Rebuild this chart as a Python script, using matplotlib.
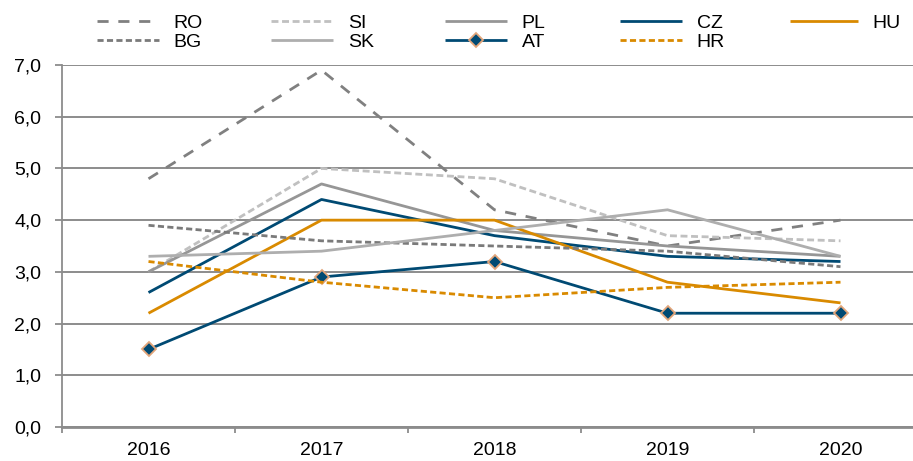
import matplotlib
matplotlib.use("Agg")
import matplotlib.pyplot as plt
from matplotlib.ticker import FuncFormatter, FixedLocator

plt.rcParams['font.family'] = ['Liberation Sans', 'DejaVu Sans']

years = ["2016", "2017", "2018", "2019", "2020"]
RO = [4.8, 6.9, 4.2, 3.5, 4.0]
SI = [3.0, 5.0, 4.8, 3.7, 3.6]
PL = [3.0, 4.7, 3.8, 3.5, 3.3]
CZ = [2.6, 4.4, 3.7, 3.3, 3.2]
HU = [2.2, 4.0, 4.0, 2.8, 2.4]
BG = [3.9, 3.6, 3.5, 3.4, 3.1]
SK = [3.3, 3.4, 3.8, 4.2, 3.3]
AT = [1.5, 2.9, 3.2, 2.2, 2.2]
HR = [3.2, 2.8, 2.5, 2.7, 2.8]

W, H = 913, 461
FS = 14
fig = plt.figure(figsize=(W/100, H/100), dpi=100)
left, right, top, bottom = 62, 927, 65, 427
ax = fig.add_axes([left/W, (H-bottom)/H, (right-left)/W, (bottom-top)/H])

x = list(range(len(years)))
lw = 2.0
blue = "#004A73"
orange = "#D98A00"
series = [
    ("RO", RO, dict(color="#808080", ls=(0, (4, 3.5)))),
    ("BG", BG, dict(color="#7A7A7A", ls=(0, (2.2, 1.2)))),
    ("SI", SI, dict(color="#C0C0C0", ls=(0, (2.5, 1.3)))),
    ("SK", SK, dict(color="#AEAEAE", ls="-")),
    ("PL", PL, dict(color="#969696", ls="-")),
    ("AT", AT, dict(color=blue, ls="-", marker="D", markersize=7,
                    markerfacecolor=blue, markeredgecolor="#E2A57A", markeredgewidth=1.3)),
    ("CZ", CZ, dict(color=blue, ls="-")),
    ("HR", HR, dict(color=orange, ls=(0, (2.2, 1.2)))),
    ("HU", HU, dict(color=orange, ls="-")),
]
draw_order = ["RO", "SI", "PL", "CZ", "HU", "BG", "SK", "AT", "HR"]
handles = {}
for name, vals, st in series:
    z = 3 + draw_order.index(name) * 0.1
    ln, = ax.plot(x, vals, lw=lw, label=name, zorder=z, solid_capstyle="butt", **st)
    handles[name] = ln

ax.set_xlim(-0.5, 4.5)
ax.set_ylim(0, 7)
ax.yaxis.set_major_locator(FixedLocator([0, 1, 2, 3, 4, 5, 6, 7]))
ax.yaxis.set_major_formatter(FuncFormatter(lambda v, p: f"{v:.1f}".replace(".", ",")))
ax.grid(axis="y", color="#8C8C8C", lw=1.4, zorder=1)
ax.set_axisbelow(True)
ax.set_xticks(x)
ax.set_xticklabels(years)
ax.set_xticks([-0.5, 0.5, 1.5, 2.5, 3.5, 4.5], minor=True)
ax.tick_params(axis="x", which="major", length=0, pad=11, labelsize=FS)
ax.tick_params(axis="x", which="minor", length=4.5, width=1.3, color="#8C8C8C", direction="out")
ax.tick_params(axis="y", length=5, width=1.3, color="#8C8C8C", labelsize=FS, pad=10)
for s in ["top", "right"]:
    ax.spines[s].set_visible(False)
ax.spines["left"].set_color("#8C8C8C")
ax.spines["left"].set_linewidth(1.3)
ax.spines["bottom"].set_color("#8C8C8C")
ax.spines["bottom"].set_linewidth(2.0)

# legend: 5 columns placed at fixed pixel positions
columns = [["RO", "BG"], ["SI", "SK"], ["PL", "AT"], ["CZ", "HR"], ["HU"]]
col_x = [97, 271, 445, 620, 790]
col_hl = [3.2, 3.2, 3.2, 3.2, 3.5]
for cx, hl, names in zip(col_x, col_hl, columns):
    fig.legend([handles[n] for n in names], names, loc="upper left",
               bbox_to_anchor=(cx/W, 1 - 14/H), frameon=False, fontsize=FS,
               handlelength=hl, handletextpad=0.75, labelspacing=0.1,
               borderaxespad=0, borderpad=0)

fig.savefig("out.png", dpi=100)
